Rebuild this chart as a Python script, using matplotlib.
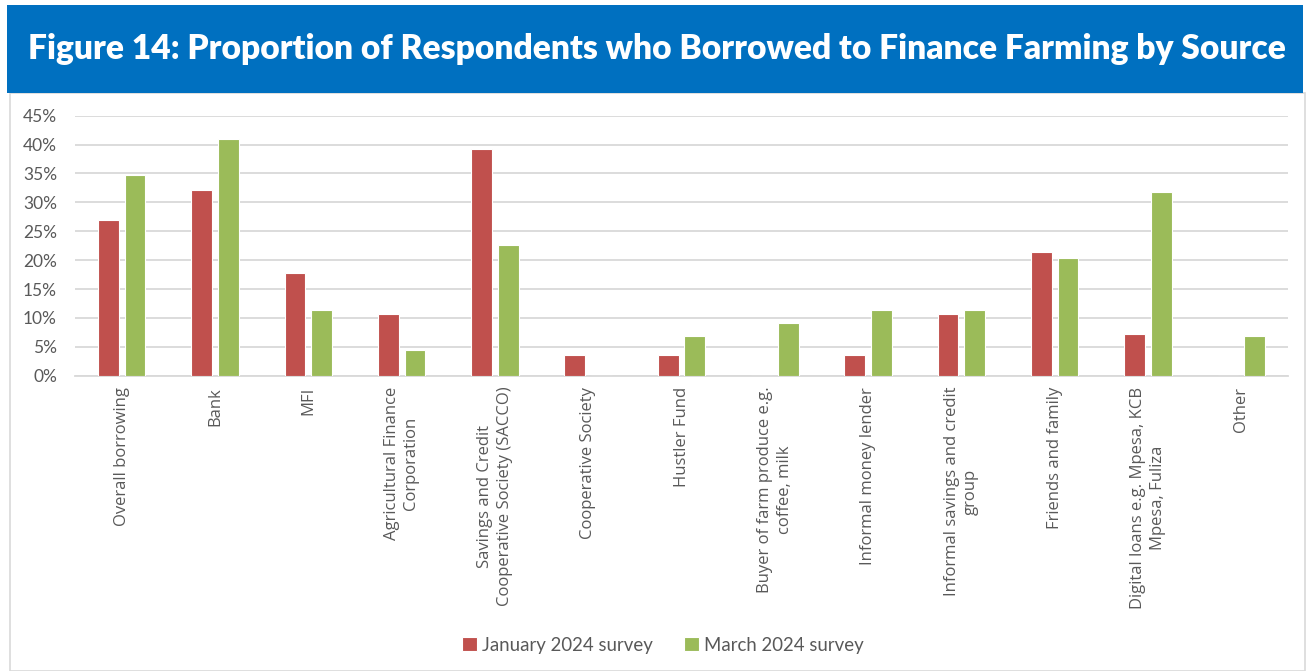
import matplotlib
matplotlib.use("Agg")
import matplotlib.pyplot as plt
from matplotlib.patches import Rectangle
from matplotlib.ticker import PercentFormatter
import numpy as np

# Borrowing sources (x-axis categories)
categories = [
    "Overall borrowing",
    "Bank",
    "MFI",
    "Agricultural Finance\nCorporation",
    "Savings and Credit\nCooperative Society (SACCO)",
    "Cooperative Society",
    "Hustler Fund",
    "Buyer of farm produce e.g.\ncoffee, milk",
    "Informal money lender",
    "Informal savings and credit\ngroup",
    "Friends and family",
    "Digital loans e.g. Mpesa, KCB\nMpesa, Fuliza",
    "Other",
]

# Share of respondents (%) per survey round
jan_2024 = [26.9, 32.1, 17.8, 10.7, 39.2, 3.5, 3.5, 0.0, 3.5, 10.7, 21.4, 7.2, 0.0]
mar_2024 = [34.8, 40.9, 11.3, 4.5, 22.7, 0.0, 6.8, 9.1, 11.3, 11.3, 20.4, 31.8, 6.8]

series_labels = ["January 2024 survey", "March 2024 survey"]
y_ticks = [0, 5, 10, 15, 20, 25, 30, 35, 40, 45]

RED = "#C0504D"
GREEN = "#9BBB59"
BLUE = "#0070C0"
GRID = "#D9D9D9"
TEXT = "#595959"

W, H = 1311, 671
fig = plt.figure(figsize=(W / 100, H / 100), dpi=100)
fig.patch.set_facecolor("white")


def fx(px):
    return px / W


def fy(py):
    return 1 - py / H


# Outer panel border and title banner
fig.patches.append(Rectangle((fx(10), fy(671)), fx(1305) - fx(10), fy(93) - fy(671),
                             transform=fig.transFigure, facecolor="white",
                             edgecolor=GRID, linewidth=1.2, zorder=-2))
fig.patches.append(Rectangle((fx(7), fy(93)), fx(1303) - fx(7), fy(5) - fy(93),
                             transform=fig.transFigure, facecolor=BLUE,
                             edgecolor="none", zorder=-1))

title = fig.text(fx(657), fy(49),
                 "Figure 14: Proportion of Respondents who Borrowed to Finance Farming by Source",
                 color="white", fontsize=23, fontweight="heavy", family=["Lato", "DejaVu Sans"],
                 ha="center", va="center", zorder=2)
# scale the title to span the banner
fig.canvas.draw()
r = fig.canvas.get_renderer()
tw = title.get_window_extent(r).width
title.set_fontsize(23 * 1255 / tw)

ax = fig.add_axes([fx(75), fy(375.7), fx(1288) - fx(75), fy(115.7) - fy(375.7)])
ax.set_zorder(3)
ax.set_facecolor("none")

x = np.arange(len(categories))
bw = 0.222
off = 0.143
ax.bar(x - off, jan_2024, bw, color=RED, edgecolor="white", linewidth=0.8,
       label=series_labels[0], zorder=3)
ax.bar(x + off, mar_2024, bw, color=GREEN, edgecolor="white", linewidth=0.8,
       label=series_labels[1], zorder=3)

ax.set_xlim(-0.5, len(categories) - 0.5)
ax.set_ylim(0, 45)
ax.set_yticks(y_ticks)
ax.yaxis.set_major_formatter(PercentFormatter(decimals=0))
ax.grid(axis="y", color=GRID, linewidth=1.3, zorder=0)
ax.set_axisbelow(True)
for s in ["top", "right", "left"]:
    ax.spines[s].set_visible(False)
ax.spines["bottom"].set_color(GRID)
ax.spines["bottom"].set_linewidth(1.3)

ax.set_xticks(x)
ax.set_xticklabels(categories, rotation=90, ha="center", va="top",
                   multialignment="center", linespacing=1.3,
                   family=["Open Sans", "DejaVu Sans"], fontsize=12, color=TEXT)
ax.tick_params(axis="x", length=0, pad=8)
ax.tick_params(axis="y", length=0, pad=13, labelcolor=TEXT, labelsize=12.5)
for lbl in ax.get_yticklabels():
    lbl.set_family(["Lato", "DejaVu Sans"])

handles, labels = ax.get_legend_handles_labels()
leg = fig.legend(handles, labels, loc="center", bbox_to_anchor=(fx(663), fy(645)),
                 ncol=2, frameon=False, handlelength=0.8, handleheight=0.8,
                 handletextpad=0.25, columnspacing=1.7,
                 prop={"family": ["Lato", "DejaVu Sans"], "size": 13.4})
for t in leg.get_texts():
    t.set_color(TEXT)

fig.savefig("out.png", dpi=100, facecolor="white")
